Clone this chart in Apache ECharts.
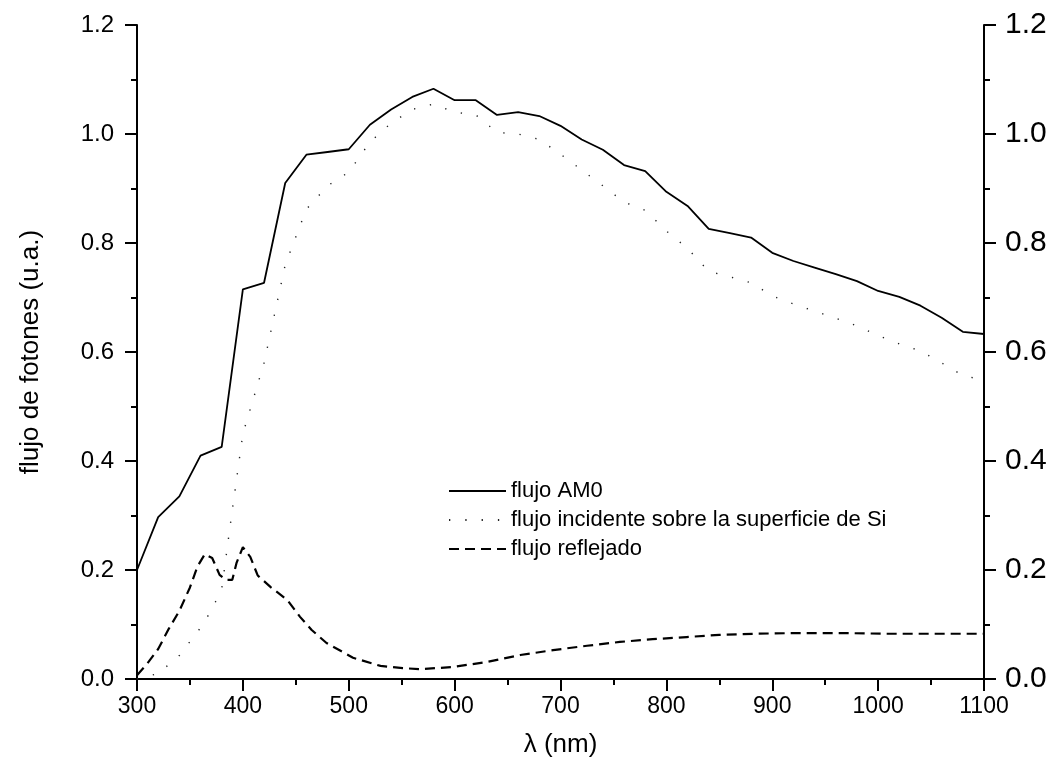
<!DOCTYPE html>
<html>
<head>
<meta charset="utf-8">
<script src="https://cdn.jsdelivr.net/npm/echarts@6/dist/echarts.min.js"></script>
<style>html,body{margin:0;padding:0;background:#fff}#c{width:1051px;height:777px}</style>
</head>
<body>
<div id="c"></div>
<script>
// Data (wavelength in nm, photon flux in a.u.)
const am0X = [300,320,340,360,380,400,420,440,460,480,500,520,540,560,580,600,620,640,660,680,700,720,740,760,780,800,820,840,860,880,900,920,940,960,980,1000,1020,1040,1060,1080,1100];
const am0Y = [0.200,0.297,0.335,0.410,0.426,0.715,0.727,0.910,0.962,0.967,0.972,1.017,1.045,1.068,1.083,1.062,1.062,1.035,1.040,1.033,1.015,0.990,0.971,0.943,0.932,0.894,0.868,0.826,0.818,0.810,0.782,0.767,0.755,0.743,0.730,0.712,0.701,0.685,0.663,0.637,0.633];

const incX = [300,320,340,360,370,380,390,400,420,440,460,480,500,520,540,560,580,600,620,640,660,680,700,720,740,760,780,800,820,840,860,880,900,920,940,960,980,1000,1020,1040,1060,1080,1100];
const incY = [0.000,0.010,0.043,0.094,0.125,0.165,0.310,0.450,0.580,0.760,0.862,0.905,0.930,0.985,1.020,1.045,1.055,1.040,1.035,1.003,1.000,0.990,0.963,0.934,0.905,0.875,0.860,0.822,0.790,0.748,0.738,0.727,0.703,0.688,0.675,0.662,0.648,0.630,0.615,0.602,0.580,0.557,0.548];

const refX = [300,310,320,330,340,350,357,364,371,378,384,390,394,400,407,414,426,442,454,465,479,504,530,551,567,598,630,662,693,725,756,787,819,850,882,914,945,976,1008,1039,1070,1100];
const refY = [0.007,0.029,0.055,0.092,0.125,0.168,0.206,0.229,0.222,0.191,0.182,0.182,0.213,0.242,0.224,0.190,0.169,0.145,0.114,0.090,0.066,0.039,0.024,0.020,0.018,0.022,0.031,0.044,0.053,0.061,0.068,0.073,0.077,0.081,0.083,0.084,0.084,0.084,0.083,0.083,0.083,0.083];

const seriesNames = ['flujo AM0','flujo incidente sobre la superficie de Si','flujo reflejado'];
const xTitle = 'λ (nm)';
const yTitle = 'flujo de fotones (u.a.)';

const zip = (xs, ys) => xs.map((x, i) => [x, ys[i]]);
const FONT = 'Liberation Sans, Arial, sans-serif';
const axisLine = {show: true, lineStyle: {color: '#000', width: 2}};
const tick = (inside) => ({show: true, inside: inside, length: 12, lineStyle: {color: '#000', width: 2}});
const minor = {show: true, splitNumber: 2, length: 6, lineStyle: {color: '#000', width: 2}};

const chart = echarts.init(document.getElementById('c'), null, {renderer: 'canvas'});
chart.setOption({
  animation: false,
  backgroundColor: '#fff',
  grid: {left: 137, right: 67, top: 25, bottom: 98, containLabel: false},
  legend: {
    orient: 'vertical', left: 443, top: 475,
    itemWidth: 57, itemHeight: 14, itemGap: 7,
    itemStyle: {opacity: 0},
    textStyle: {fontFamily: FONT, fontSize: 22, color: '#000'},
    data: seriesNames
  },
  xAxis: [
    {type: 'value', position: 'bottom', min: 300, max: 1100, interval: 100,
     name: xTitle, nameLocation: 'middle', nameGap: 53,
     nameTextStyle: {fontFamily: FONT, fontSize: 26, color: '#000'},
     axisLine: axisLine, axisTick: tick(false), minorTick: minor,
     axisLabel: {fontFamily: FONT, fontSize: 23, color: '#000', margin: 16, formatter: v => String(v)},
     splitLine: {show: false}},
    {type: 'value', position: 'top', min: 300, max: 1100, interval: 100,
     axisLine: axisLine, axisTick: tick(true),
     minorTick: {show: true, splitNumber: 2, length: 6, lineStyle: {color: '#000', width: 2}},
     axisLabel: {show: false}, splitLine: {show: false}}
  ],
  yAxis: [
    {type: 'value', position: 'left', min: 0, max: 1.2, interval: 0.2,
     name: yTitle, nameLocation: 'middle', nameGap: 93, nameRotate: 90,
     nameTextStyle: {fontFamily: FONT, fontSize: 26, color: '#000'},
     axisLine: axisLine, axisTick: tick(false), minorTick: minor,
     axisLabel: {fontFamily: FONT, fontSize: 24, color: '#000', margin: 23, formatter: v => v.toFixed(1)},
     splitLine: {show: false}},
    {type: 'value', position: 'right', min: 0, max: 1.2, interval: 0.2,
     axisLine: axisLine, axisTick: tick(false), minorTick: minor,
     axisLabel: {fontFamily: FONT, fontSize: 30, color: '#000', margin: 21, formatter: v => v.toFixed(1)},
     splitLine: {show: false}}
  ],
  series: [
    {name: seriesNames[0], type: 'line', data: zip(am0X, am0Y), showSymbol: false, symbol: 'none',
     lineStyle: {color: '#000', width: 1.8, type: 'solid'}, itemStyle: {color: '#000'}},
    {name: seriesNames[1], type: 'line', data: zip(incX, incY), showSymbol: false, symbol: 'none',
     lineStyle: {color: '#222', width: 1.4, type: [1.3, 15]}, itemStyle: {color: '#222'}},
    {name: seriesNames[2], type: 'line', data: zip(refX, refY), showSymbol: false, symbol: 'none',
     lineStyle: {color: '#000', width: 2.2, type: [10, 6]}, itemStyle: {color: '#000'}}
  ]
});
</script>
</body>
</html>
